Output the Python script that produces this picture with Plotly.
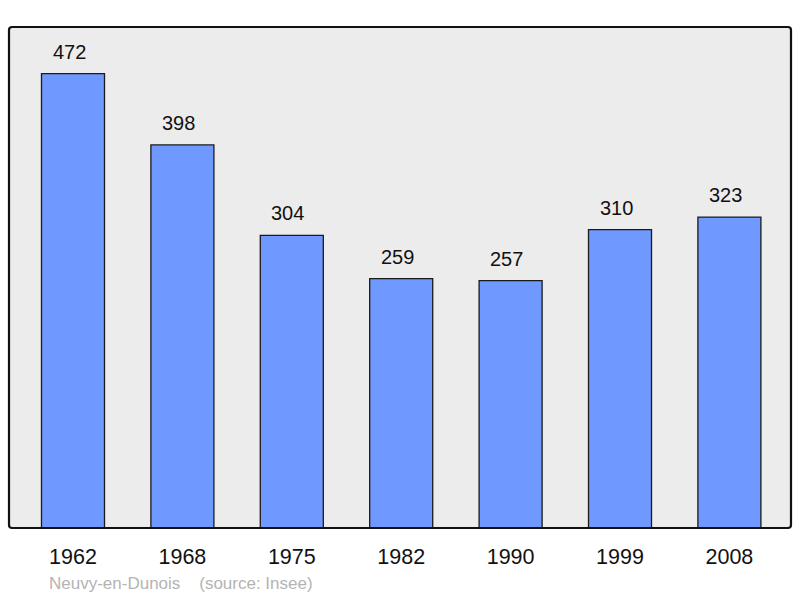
import plotly.graph_objects as go

years = ["1962", "1968", "1975", "1982", "1990", "1999", "2008"]
population = [472, 398, 304, 259, 257, 310, 323]

fig = go.Figure()
fig.add_trace(go.Bar(
    x=years, y=population, width=0.576,
    marker=dict(color="#7099ff", line=dict(color="#1a1a1a", width=1.3)),
    hoverinfo="skip",
))
for i, v in enumerate(population):
    fig.add_annotation(x=i, y=v, xref="x", yref="y", text=str(v), showarrow=False, yanchor="bottom",
                       yshift=9, xshift=-4,
                       font=dict(size=20, color="#111111", family="Liberation Sans, Arial"))

# rounded frame
fig.add_shape(type="path", xref="paper", yref="paper",
              path="M 0.004 0 L 0.996 0 Q 1 0 1 0.006 L 1 0.994 Q 1 1 0.996 1 L 0.004 1 Q 0 1 0 0.994 L 0 0.006 Q 0 0 0.004 0 Z",
              line=dict(color="#111111", width=2.2), layer="above")

fig.add_annotation(xref="paper", yref="paper", x=0.0485, y=-0.11, xanchor="left", yanchor="middle",
                   text="Neuvy-en-Dunois&nbsp;&nbsp;&nbsp;&nbsp;(source: Insee)", showarrow=False,
                   font=dict(size=17, color="#b4b4b4", family="Liberation Sans, Arial"))

fig.update_layout(
    width=800, height=598,
    margin=dict(l=9, r=9, t=27, b=70),
    paper_bgcolor="white", plot_bgcolor="#ececec",
    showlegend=False,
    xaxis=dict(type="category", range=[-0.585, 6.563], showgrid=False, zeroline=False, ticks="",
               tickfont=dict(size=21.5, color="#111111", family="Liberation Sans, Arial"),
               ticklabelstandoff=13, fixedrange=True),
    yaxis=dict(range=[0, 520.5], showgrid=False, zeroline=False, showticklabels=False, fixedrange=True),
)
fig.write_html("out.html", config={"displayModeBar": False},
               post_script="document.body.style.margin='0';document.body.style.overflow='hidden';")
